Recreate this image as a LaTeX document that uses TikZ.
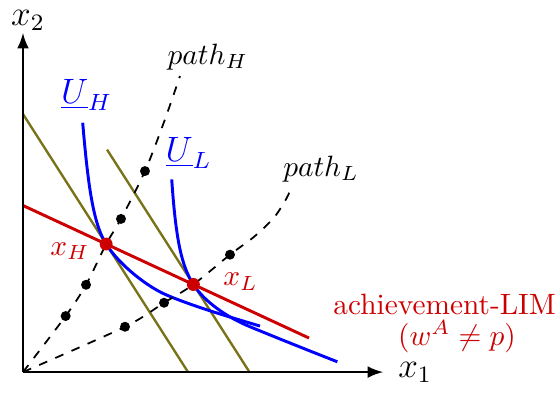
\documentclass[tikz,border=0pt]{standalone}
\begin{document}
\begin{tikzpicture}[>=latex,
    budget/.style={olive!80!black,thick},
    indiff/.style={blue,line width=1pt},
    track/.style={dashed,semithick},
    limline/.style={red!80!black,line width=1pt}]
    \def\rdot{1.7pt}
    \def\rbig{2.2pt}
    \useasboundingbox (-0.275,-0.239) rectangle (6.423,4.450);

    % budget lines and the achievement-LIM line
    \coordinate (bHa) at (0,3.086);
    \coordinate (bHb) at (1.974,0);
    \coordinate (bLa) at (1.005,2.661);
    \coordinate (bLb) at (2.709,0);
    \coordinate (la) at (0,1.992);
    \coordinate (lb) at (3.421,0.407);
    \coordinate (xH) at (intersection of bHa--bHb and la--lb);
    \coordinate (xL) at (intersection of bLa--bLb and la--lb);
    \draw[budget] (bHa) -- (bHb);
    \draw[budget] (bLa) -- (bLb);
    \draw[limline] (la) -- (lb);

    % indifference curves
    \draw[indiff] (0.714,2.982) .. controls (0.774,2.285) and (0.833,1.784) .. (xH)
        .. controls (1.156,1.278) and (1.489,1.018) .. (1.719,0.921)
        .. controls (2.060,0.777) and (2.481,0.657) .. (2.835,0.550);
    \draw[indiff] (1.779,2.305) .. controls (1.829,1.556) and (1.903,1.259) .. (xL)
        .. controls (2.173,0.838) and (2.438,0.657) .. (2.715,0.542)
        .. controls (3.057,0.401) and (3.416,0.258) .. (3.760,0.123);

    % expansion paths
    \draw[track] plot[smooth] coordinates
        {(0,0) (0.51,0.67) (0.754,1.044) (xH) (1.172,1.832) (1.459,2.404) (1.69,3.0) (1.878,3.541)};
    \draw[track] plot[smooth] coordinates
        {(0,0) (1.22,0.542) (1.687,0.829) (xL) (2.476,1.404) (2.76,1.615) (3.0,1.845) (3.15,2.074) (3.206,2.2)};
    \foreach \x/\y in {0.51/0.67,0.754/1.044,1.172/1.832,1.459/2.404,
                       1.22/0.542,1.687/0.829,2.476/1.404}
        \fill (\x,\y) circle (\rdot);
    \foreach \p in {xH,xL}
        \fill[red!80!black] (\p) circle (\rbig);

    % axes
    \draw[->,thick] (0,0) -- (4.306,0);
    \draw[->,thick] (0,0) -- (0,4.055);

    \node[font=\large] (xone) at (4.69,0) {$x_1$};
    \node[font=\large,inner sep=1pt] (xtwo) at (0.06,4.205) {$x_2$};
    \node[blue,font=\large] (uH) at (0.76,3.313) {$\underline{U}_H$};
    \node[blue,font=\large] (uL) at (1.98,2.62) {$\underline{U}_L$};
    \node (pH) at (2.21,3.77) {$path_H$};
    \node (pL) at (3.565,2.428) {$path_L$};
    \node[red!80!black] (lH) at (0.562,1.447) {$x_H$};
    \node[red!80!black] (lL) at (2.602,1.083) {$x_L$};
    \node[red!80!black] (lim) at (5.042,0.813) {achievement-LIM};
    \node[red!80!black] (limw) at (5.191,0.425) {$(w^A\neq p)$};
\end{tikzpicture}
\end{document}
